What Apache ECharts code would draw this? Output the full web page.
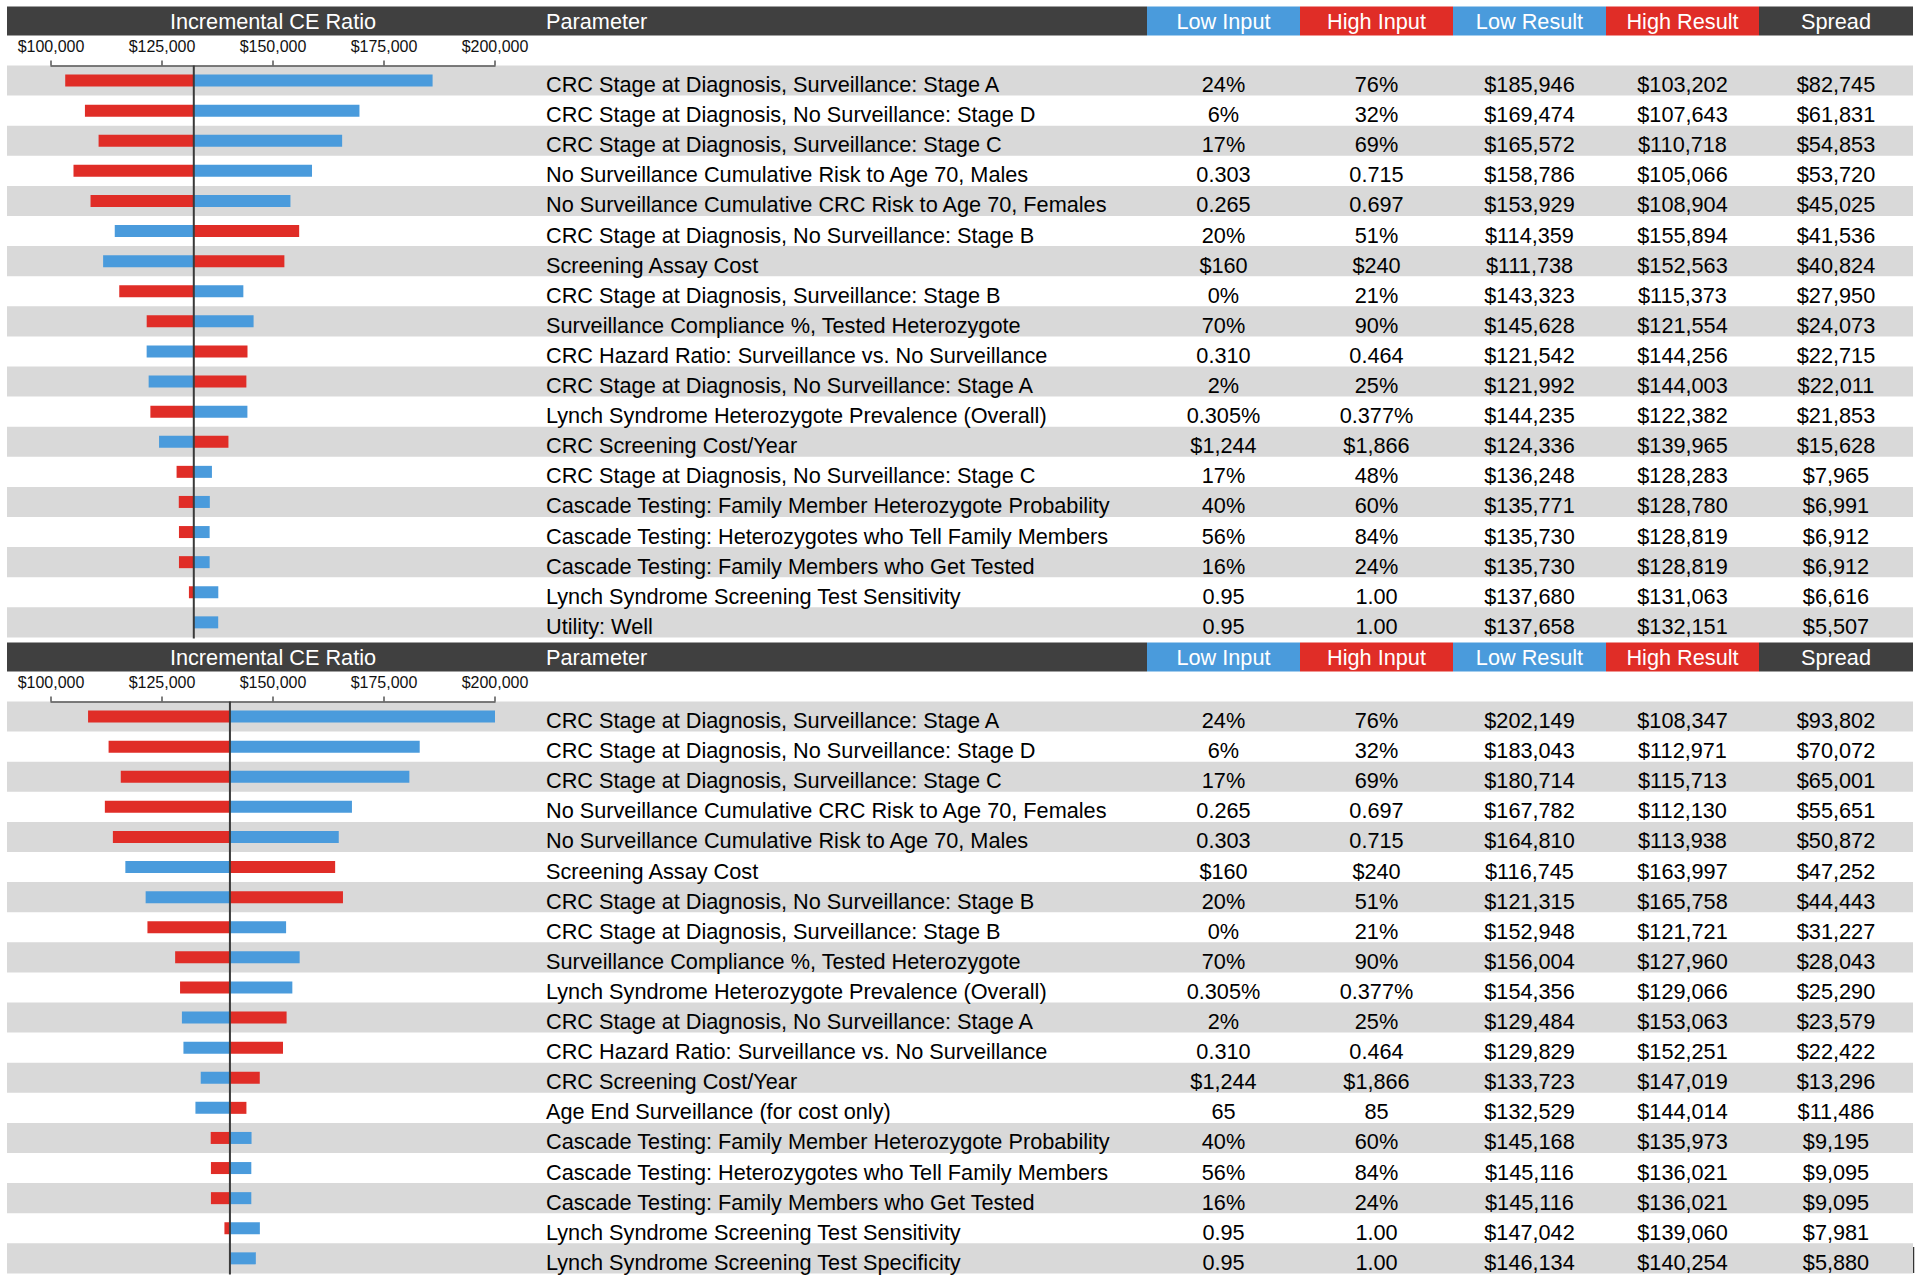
<!DOCTYPE html>
<html>
<head>
<meta charset="utf-8">
<script src="https://cdn.jsdelivr.net/npm/echarts@6/dist/echarts.min.js"></script>
<style>
html,body{margin:0;padding:0;background:#fff;}
#c{width:1920px;height:1281px;}
</style>
</head>
<body>
<div id="c"></div>
<script>
// ---------- DATA ----------
const axisMin = 100000, axisMax = 200000, axisInterval = 25000;
const headerLabels = ['Incremental CE Ratio', 'Parameter', 'Low Input', 'High Input', 'Low Result', 'High Result', 'Spread'];

// Panel 1
const topParams = [
  'CRC Stage at Diagnosis, Surveillance: Stage A',
  'CRC Stage at Diagnosis, No Surveillance: Stage D',
  'CRC Stage at Diagnosis, Surveillance: Stage C',
  'No Surveillance Cumulative Risk to Age 70, Males',
  'No Surveillance Cumulative CRC Risk to Age 70, Females',
  'CRC Stage at Diagnosis, No Surveillance: Stage B',
  'Screening Assay Cost',
  'CRC Stage at Diagnosis, Surveillance: Stage B',
  'Surveillance Compliance %, Tested Heterozygote',
  'CRC Hazard Ratio: Surveillance vs. No Surveillance',
  'CRC Stage at Diagnosis, No Surveillance: Stage A',
  'Lynch Syndrome Heterozygote Prevalence (Overall)',
  'CRC Screening Cost/Year',
  'CRC Stage at Diagnosis, No Surveillance: Stage C',
  'Cascade Testing: Family Member Heterozygote Probability',
  'Cascade Testing: Heterozygotes who Tell Family Members',
  'Cascade Testing: Family Members who Get Tested',
  'Lynch Syndrome Screening Test Sensitivity',
  'Utility: Well'
];
const topLowInput  = ['24%','6%','17%','0.303','0.265','20%','$160','0%','70%','0.310','2%','0.305%','$1,244','17%','40%','56%','16%','0.95','0.95'];
const topHighInput = ['76%','32%','69%','0.715','0.697','51%','$240','21%','90%','0.464','25%','0.377%','$1,866','48%','60%','84%','24%','1.00','1.00'];
const topLowResult  = [185946,169474,165572,158786,153929,114359,111738,143323,145628,121542,121992,144235,124336,136248,135771,135730,135730,137680,137658];
const topHighResult = [103202,107643,110718,105066,108904,155894,152563,115373,121554,144256,144003,122382,139965,128283,128780,128819,128819,131063,132151];
const topSpread     = [82745,61831,54853,53720,45025,41536,40824,27950,24073,22715,22011,21853,15628,7965,6991,6912,6912,6616,5507];
const topBase = 132160;

// Panel 2
const botParams = [
  'CRC Stage at Diagnosis, Surveillance: Stage A',
  'CRC Stage at Diagnosis, No Surveillance: Stage D',
  'CRC Stage at Diagnosis, Surveillance: Stage C',
  'No Surveillance Cumulative CRC Risk to Age 70, Females',
  'No Surveillance Cumulative Risk to Age 70, Males',
  'Screening Assay Cost',
  'CRC Stage at Diagnosis, No Surveillance: Stage B',
  'CRC Stage at Diagnosis, Surveillance: Stage B',
  'Surveillance Compliance %, Tested Heterozygote',
  'Lynch Syndrome Heterozygote Prevalence (Overall)',
  'CRC Stage at Diagnosis, No Surveillance: Stage A',
  'CRC Hazard Ratio: Surveillance vs. No Surveillance',
  'CRC Screening Cost/Year',
  'Age End Surveillance (for cost only)',
  'Cascade Testing: Family Member Heterozygote Probability',
  'Cascade Testing: Heterozygotes who Tell Family Members',
  'Cascade Testing: Family Members who Get Tested',
  'Lynch Syndrome Screening Test Sensitivity',
  'Lynch Syndrome Screening Test Specificity'
];
const botLowInput  = ['24%','6%','17%','0.265','0.303','$160','20%','0%','70%','0.305%','2%','0.310','$1,244','65','40%','56%','16%','0.95','0.95'];
const botHighInput = ['76%','32%','69%','0.697','0.715','$240','51%','21%','90%','0.377%','25%','0.464','$1,866','85','60%','84%','24%','1.00','1.00'];
const botLowResult  = [202149,183043,180714,167782,164810,116745,121315,152948,156004,154356,129484,129829,133723,132529,145168,145116,145116,147042,146134];
const botHighResult = [108347,112971,115713,112130,113938,163997,165758,121721,127960,129066,153063,152251,147019,144014,135973,136021,136021,139060,140254];
const botSpread     = [93802,70072,65001,55651,50872,47252,44443,31227,28043,25290,23579,22422,13296,11486,9195,9095,9095,7981,5880];
const botBase = 140300;

// ---------- STYLE / LAYOUT ----------
const BLUE = '#4a9bdc', RED = '#e02d27', DARK = '#404040', BAND = '#d9d9d9';
const FONT = '"Liberation Sans", Arial, Helvetica, sans-serif';
const L = {
  left: 7, right: 1913, chartLeft: 51, chartWidth: 444, paramX: 546,
  colEdges: [1147, 1300, 1453, 1606, 1759, 1913],
  headerH: 29, rowH: 30.1, barH: 12, textDy: 4, textSize: 21.7
};
const panels = [
  { headerTop: 6.5, axisY: 65.5, names: topParams, lowIn: topLowInput, highIn: topHighInput, lowRes: topLowResult, highRes: topHighResult, spread: topSpread, base: topBase },
  { headerTop: 642.5, axisY: 701.5, names: botParams, lowIn: botLowInput, highIn: botHighInput, lowRes: botLowResult, highRes: botHighResult, spread: botSpread, base: botBase }
];

const money = v => '$' + Number(v).toLocaleString('en-US');
const colCenters = L.colEdges.slice(0, 5).map((e, i) => (e + L.colEdges[i + 1]) / 2);

const grid = [], xAxis = [], yAxis = [], series = [], graphics = [];

panels.forEach((P, p) => {
  const n = P.names.length;
  const h = n * L.rowH;
  const tIdx = p * 2, cIdx = p * 2 + 1;
  // table grid (full width)
  grid.push({ left: L.left, top: P.axisY, width: L.right - L.left, height: h, containLabel: false });
  xAxis.push({ gridIndex: tIdx, type: 'value', min: 0, max: 1, show: false });
  yAxis.push({ gridIndex: tIdx, type: 'category', inverse: true, data: P.names, show: false });
  // chart grid
  grid.push({ left: L.chartLeft, top: P.axisY, width: L.chartWidth, height: h, containLabel: false });
  xAxis.push({
    gridIndex: cIdx, type: 'value', position: 'top', min: axisMin, max: axisMax, interval: axisInterval,
    axisLine: { show: true, onZero: false, lineStyle: { color: '#555', width: 1.5 } },
    axisTick: { show: true, length: 5, lineStyle: { color: '#555', width: 1.5 } },
    splitLine: { show: false },
    axisLabel: { show: true, margin: 11, fontSize: 16, fontFamily: FONT, color: '#111', formatter: v => money(v) }
  });
  yAxis.push({ gridIndex: cIdx, type: 'category', inverse: true, data: P.names, show: false });

  // bands
  series.push({
    type: 'custom', xAxisIndex: tIdx, yAxisIndex: tIdx, z: 0, silent: true, clip: false,
    data: P.names.map((_, i) => [0, i]), encode: { x: 0, y: 1 },
    renderItem: (prm, api) => {
      const i = api.value(1);
      if (i % 2 === 1) return null;
      const c = api.coord([0, i]), s = api.size([0, 1]);
      return { type: 'rect', shape: { x: prm.coordSys.x, y: c[1] - s[1] / 2, width: prm.coordSys.width, height: s[1] }, style: { fill: BAND } };
    }
  });
  // table text
  series.push({
    type: 'custom', xAxisIndex: tIdx, yAxisIndex: tIdx, z: 3, silent: true, clip: false,
    data: P.names.map((_, i) => [0, i]), encode: { x: 0, y: 1 },
    renderItem: (prm, api) => {
      const i = api.value(1);
      const y = api.coord([0, i])[1] + L.textDy;
      const cells = [
        [L.paramX, P.names[i], 'left'],
        [colCenters[0], P.lowIn[i], 'center'],
        [colCenters[1], P.highIn[i], 'center'],
        [colCenters[2], money(P.lowRes[i]), 'center'],
        [colCenters[3], money(P.highRes[i]), 'center'],
        [colCenters[4], money(P.spread[i]), 'center']
      ];
      return {
        type: 'group',
        children: cells.map(c => ({
          type: 'text',
          style: { x: c[0], y: y, text: c[1], fill: '#000', font: L.textSize + 'px ' + FONT, textAlign: c[2], textVerticalAlign: 'middle' }
        }))
      };
    }
  });
  // bars
  series.push({
    type: 'custom', xAxisIndex: cIdx, yAxisIndex: cIdx, z: 2, silent: true,
    data: P.names.map((_, i) => [i, P.lowRes[i], P.highRes[i]]), encode: { y: 0, x: [1, 2] },
    renderItem: (prm, api) => {
      const i = api.value(0);
      const b = api.coord([P.base, i]);
      const cs = prm.coordSys;
      const mk = (val, color) => {
        const x1 = api.coord([val, i])[0];
        const r = echarts.graphic.clipRectByRect(
          { x: Math.min(b[0], x1), y: b[1] - L.barH / 2, width: Math.abs(x1 - b[0]), height: L.barH },
          { x: cs.x, y: cs.y, width: cs.width, height: cs.height });
        return r ? { type: 'rect', shape: r, style: { fill: color } } : null;
      };
      return { type: 'group', children: [mk(api.value(1), BLUE), mk(api.value(2), RED)].filter(Boolean) };
    }
  });
  // base line
  series.push({
    type: 'custom', xAxisIndex: cIdx, yAxisIndex: cIdx, z: 4, silent: true, clip: false,
    data: [[P.base, 0]], encode: { x: 0, y: 1 },
    renderItem: (prm, api) => {
      const x = api.coord([api.value(0), 0])[0];
      const cs = prm.coordSys;
      return { type: 'line', shape: { x1: x, y1: cs.y, x2: x, y2: cs.y + cs.height + 1 }, style: { stroke: '#3a3a3a', lineWidth: 2 } };
    }
  });

  // header
  const ht = P.headerTop, hh = L.headerH, hc = ht + hh / 2 + 0.5;
  graphics.push({ type: 'rect', shape: { x: L.left, y: ht, width: L.colEdges[0] - L.left, height: hh }, style: { fill: DARK }, silent: true });
  const cellColors = [BLUE, RED, BLUE, RED, DARK];
  cellColors.forEach((col, k) => {
    graphics.push({ type: 'rect', shape: { x: L.colEdges[k], y: ht, width: L.colEdges[k + 1] - L.colEdges[k], height: hh }, style: { fill: col }, silent: true });
    graphics.push({ type: 'text', silent: true, style: { x: colCenters[k], y: hc, text: headerLabels[k + 2], fill: '#fff', font: L.textSize + 'px ' + FONT, textAlign: 'center', textVerticalAlign: 'middle' } });
  });
  graphics.push({ type: 'text', silent: true, style: { x: L.chartLeft + L.chartWidth / 2, y: hc, text: headerLabels[0], fill: '#fff', font: L.textSize + 'px ' + FONT, textAlign: 'center', textVerticalAlign: 'middle' } });
  graphics.push({ type: 'text', silent: true, style: { x: L.paramX, y: hc, text: headerLabels[1], fill: '#fff', font: L.textSize + 'px ' + FONT, textAlign: 'left', textVerticalAlign: 'middle' } });
});
// small edge mark at lower right
graphics.push({ type: 'line', silent: true, shape: { x1: 1913.5, y1: 1247, x2: 1913.5, y2: 1273 }, style: { stroke: '#333', lineWidth: 1.5 } });

const chart = echarts.init(document.getElementById('c'), null, { renderer: 'svg', width: 1920, height: 1281 });
chart.setOption({
  animation: false,
  backgroundColor: '#fff',
  grid, xAxis, yAxis, series,
  graphic: { elements: graphics }
});
</script>
</body>
</html>
